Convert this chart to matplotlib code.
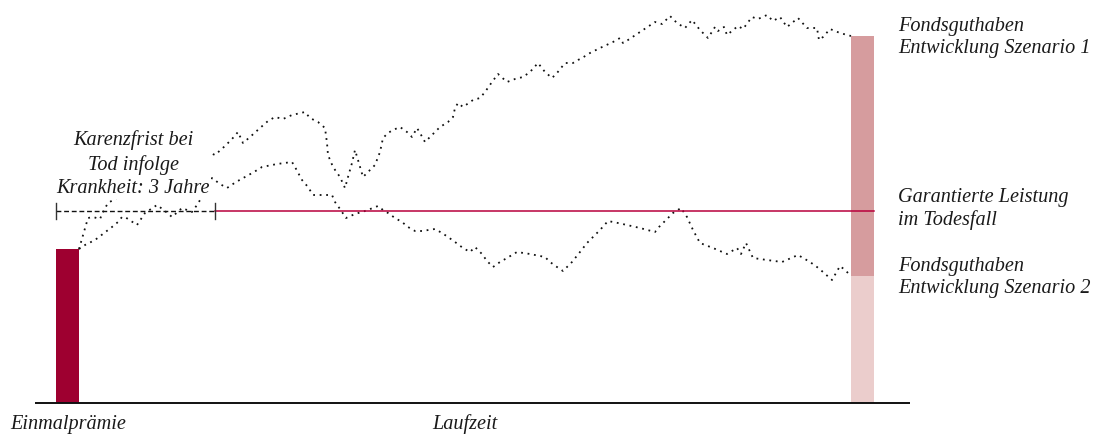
import matplotlib
matplotlib.use("Agg")
import matplotlib.pyplot as plt

# ---- data (arbitrary value units, time in steps) ----
premium = 154
guarantee = 192
horizon = 772
karenz_end = 136

scenario1_t = [0, 9, 14, 21, 25, 29, 41, 61, 86, 106, 121, 125, 129, 136, 146, 153, 159, 164, 171, 181,
               189, 196, 204, 213, 226, 231, 239, 246, 248, 249, 254, 261, 266, 269, 273, 276, 279, 284,
               291, 296, 301, 304, 309, 314, 321, 328, 333, 338, 341, 346, 353, 361, 369, 374, 376, 379,
               384, 394, 401, 406, 413, 419, 428, 436, 444, 451, 459, 466, 473, 478, 486, 494, 499, 503,
               511, 521, 534, 541, 544, 549, 561, 576, 583, 591, 598, 606, 613, 621, 629, 636, 639, 645,
               648, 659, 664, 673, 679, 688, 694, 701, 708, 719, 728, 738, 740, 744, 751, 761, 772]
scenario1_v = [154, 185, 186, 184, 193, 200, 207, 215, 225, 233, 240, 247, 251, 248, 257, 264, 271, 260, 266, 275,
               282, 286, 284, 288, 291, 285, 281, 275, 260, 248, 236, 226, 215, 226, 240, 253, 243, 226,
               233, 238, 251, 265, 270, 273, 276, 271, 266, 275, 270, 261, 268, 276, 281, 286, 295, 300,
               296, 303, 305, 311, 321, 329, 321, 324, 326, 331, 340, 331, 325, 330, 340, 340, 343, 345,
               350, 355, 361, 365, 360, 363, 371, 381, 379, 387, 380, 375, 383, 373, 365, 376, 372, 376,
               368, 377, 374, 386, 384, 388, 382, 386, 376, 385, 375, 375, 363, 366, 374, 370, 367]

scenario2_t = [0, 6, 16, 33, 39, 43, 46, 52, 58, 66, 78, 86, 93, 103, 113, 118, 126, 133, 141, 148, 157, 166,
               175, 183, 198, 213, 216, 223, 229, 234, 253, 256, 261, 267, 276, 286, 299, 304, 309, 316,
               323, 329, 336, 343, 356, 363, 369, 376, 384, 391, 396, 403, 408, 414, 421, 428, 438, 451,
               466, 471, 478, 484, 493, 501, 508, 515, 521, 529, 539, 548, 561, 576, 580, 584, 594, 602,
               608, 614, 621, 634, 648, 658, 662, 667, 674, 688, 703, 719, 731, 738, 744, 753, 761, 766, 772]
scenario2_v = [154, 158, 163, 176, 181, 186, 186, 182, 178, 190, 198, 192, 186, 195, 191, 198, 211, 225, 219, 215,
               221, 226, 231, 236, 239, 241, 236, 223, 216, 208, 208, 201, 194, 185, 189, 192, 197, 193, 190,
               185, 181, 176, 172, 172, 174, 170, 166, 161, 155, 151, 156, 149, 142, 136, 141, 145, 151, 149,
               146, 141, 136, 132, 141, 151, 160, 167, 173, 182, 180, 178, 175, 171, 176, 180, 190, 195,
               186, 173, 160, 155, 149, 155, 149, 160, 145, 143, 141, 148, 141, 136, 131, 123, 137, 133, 127]

end_s1 = scenario1_v[-1]
end_s2 = scenario2_v[-1]

labels_right = ["Fondsguthaben\nEntwicklung Szenario 1",
                "Garantierte Leistung\nim Todesfall",
                "Fondsguthaben\nEntwicklung Szenario 2"]
karenz_label = "Karenzfrist bei\nTod infolge\nKrankheit: 3 Jahre"
x_label_left = "Einmalprämie"
x_label_mid = "Laufzeit"

# ---- style ----
C_PREMIUM = "#9e0030"
C_S1 = "#d69c9e"
C_S2 = "#ebcdcc"
C_GUAR = "#b8003c"
FONT = dict(family="Liberation Serif", style="italic", size=14.6, color="#1a1a1a")

fig = plt.figure(figsize=(11.01, 4.34), dpi=100)
ax = fig.add_axes([0, 0, 1, 1])
ax.set_xlim(-79, 1101 - 79)
ax.set_ylim(403 - 434, 403)
ax.axis("off")

bw = 23
# bars
ax.bar(-bw / 2, premium, width=bw, color=C_PREMIUM, zorder=2)
ax.bar(horizon + bw / 2, end_s2, width=bw, color=C_S2, zorder=2)
ax.bar(horizon + bw / 2, end_s1 - end_s2, bottom=end_s2, width=bw, color=C_S1, zorder=2)

# baseline
ax.plot([-44, 831], [0, 0], color="#111111", lw=1.4, zorder=3, solid_capstyle="butt")

# scenario lines
dot = dict(color="#111111", lw=1.3, linestyle=(0, (1.0, 2.6)), zorder=1)
ax.plot(scenario1_t, scenario1_v, **dot)
ax.plot(scenario2_t, scenario2_v, **dot)

# guarantee line
ax.plot([karenz_end, horizon + bw], [guarantee, guarantee], color=C_GUAR, lw=1.1, zorder=3)
# karenz dashed
ax.plot([-bw, karenz_end], [guarantee, guarantee], color="#111111", lw=1.0,
        linestyle=(0, (3.5, 2.0)), zorder=3)
for xx in (-bw + 0.5, karenz_end):
    ax.plot([xx, xx], [guarantee - 8, guarantee + 8], color="#333333", lw=1.0, zorder=3)

# karenz label with white backdrop
ax.text(54, 403 - 193, karenz_label, ha="center", va="baseline", linespacing=1.32,
        bbox=dict(facecolor="white", edgecolor="none", pad=1.0), zorder=4, **FONT)

# right labels (baseline = last line)
ax.text(819, 403 - 53, labels_right[0], ha="left", va="baseline", linespacing=1.2, **FONT)
ax.text(819, 403 - 225, labels_right[1], ha="left", va="baseline", linespacing=1.2, **FONT)
ax.text(819, 403 - 293, labels_right[2], ha="left", va="baseline", linespacing=1.2, **FONT)

# axis labels
ax.text(-69, -26, x_label_left, ha="left", va="baseline", **FONT)
ax.text(353, -26, x_label_mid, ha="left", va="baseline", **FONT)

fig.savefig("out.png", dpi=100, facecolor="white")
